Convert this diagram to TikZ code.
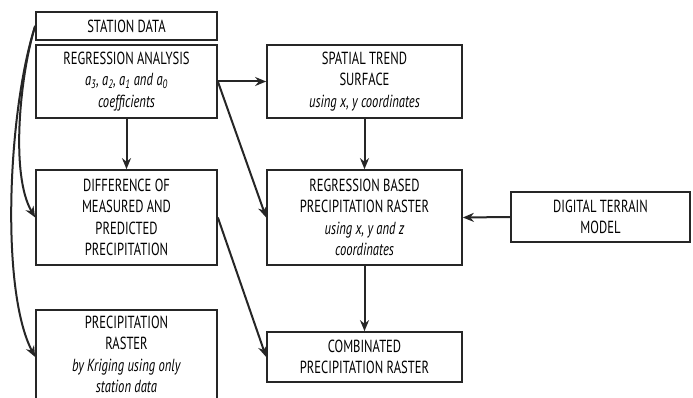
\documentclass[tikz,border=0pt]{standalone}
\usepackage{fontspec}
\setmainfont{PT Sans}[FakeStretch=0.72]
\usetikzlibrary{arrows.meta}
\newcommand{\asub}[1]{\textit{a}\textsubscript{\textit{#1}}}
\begin{document}
\begin{tikzpicture}[x=1pt,y=-1pt,
  box/.style={draw=black!85,line width=1.7pt,align=center,inner sep=0pt,font=\fontsize{17.5}{21.5}\selectfont},
  arr/.style={line width=2pt,draw=black!85,-{Stealth[length=11pt,width=9pt]}}]
\useasboundingbox (0,0) rectangle (693,398);
\clip (0,0) rectangle (693,398);
\node[box,minimum width=181pt,minimum height=28pt] (sd) at (126.5,26) {STATION DATA};
\node[box,minimum width=181pt,minimum height=73pt] (ra) at (126.5,81.5) {REGRESSION ANALYSIS\\ \asub{3}\textit{, }\asub{2}\textit{, }\asub{1}\textit{ and }\asub{0}\\ \textit{coefficients}};
\node[box,minimum width=195pt,minimum height=73pt] (st) at (364.5,81.5) {SPATIAL TREND\\ SURFACE\\ \textit{using x, y coordinates}};
\node[box,minimum width=181pt,minimum height=95pt] (diff) at (126.5,217.5) {DIFFERENCE OF\\ MEASURED AND\\ PREDICTED\\ PRECIPITATION};
\node[box,minimum width=195pt,minimum height=95pt] (rb) at (364.5,217.5) {REGRESSION BASED\\ PRECIPITATION RASTER\\ \textit{using x, y and z}\\ \textit{coordinates}};
\node[box,minimum width=179pt,minimum height=50pt] (dtm) at (600.5,217) {DIGITAL TERRAIN\\ MODEL};
\node[box,minimum width=181pt,anchor=north,inner ysep=6pt] (pr) at (126.5,309) {PRECIPITATION\\ RASTER\\ \textit{by Kriging using only}\\ \textit{station data}\\ \mbox{}};
\node[box,minimum width=195pt,minimum height=50pt] (comb) at (364.5,357) {COMBINATED\\ PRECIPITATION RASTER};
\draw[arr] (ra.east) -- (st.west);
\draw[arr] (ra.east) -- (rb.west);
\draw[arr] (ra.south) -- (diff.north);
\draw[arr] (st.south) -- (rb.north);
\draw[arr] (dtm.west) -- (rb.east);
\draw[arr] (rb.south) -- (comb.north);
\draw[arr] (diff.east) -- (comb.west);
\draw[arr] (sd.west) .. controls (20,75) and (10,175) .. (diff.west);
\draw[arr] (sd.west) .. controls (8,110) and (0,290) .. (pr.west |- 0,357);
\end{tikzpicture}
\end{document}
